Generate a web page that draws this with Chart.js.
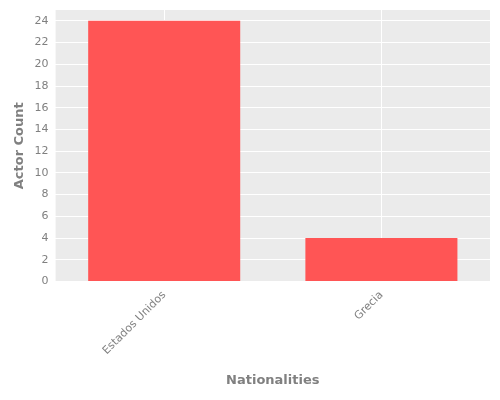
<!DOCTYPE html>
<html>
<head>
<script src="https://cdn.jsdelivr.net/npm/chart.js@4"></script>
<style>body{margin:0;background:#fff}#wrap{width:500px;height:400px}</style>
</head>
<body>
<div id="wrap"><canvas id="chart"></canvas></div>
<script>
const nationalities = ['Estados Unidos', 'Grecia'];
const actorCounts = [24, 4];
const yTicks = [0, 2, 4, 6, 8, 10, 12, 14, 16, 18, 20, 22, 24];

// gray panel behind the plot, ggplot style
const panelBg = {
    id: 'panelBg',
    beforeDraw(chart) {
        const { ctx, chartArea: a } = chart;
        ctx.save();
        ctx.fillStyle = '#ebebeb';
        ctx.fillRect(a.left, a.top, a.right - a.left, a.bottom - a.top);
        ctx.restore();
    }
};

new Chart(document.getElementById('chart'), {
    type: 'bar',
    data: {
        labels: nationalities,
        datasets: [{
            data: actorCounts,
            backgroundColor: '#ff5555',
            categoryPercentage: 1,
            barPercentage: 0.7
        }]
    },
    options: {
        responsive: true,
        maintainAspectRatio: false,
        animation: false,
        layout: { padding: { top: 10, right: 10, left: 8, bottom: 8 } },
        plugins: { legend: { display: false }, tooltip: { enabled: false } },
        scales: {
            x: {
                grid: { color: '#ffffff', lineWidth: 1, tickLength: 4, offset: false },
                border: { display: false },
                ticks: { color: '#808080', font: { family: 'DejaVu Sans', size: 11 }, maxRotation: 45, minRotation: 45 },
                title: { display: true, text: 'Nationalities', color: '#808080', padding: { top: 12 },
                    font: { family: 'DejaVu Sans', size: 13, weight: 'bold' } }
            },
            y: {
                min: 0, max: 25,
                afterBuildTicks: axis => { axis.ticks = yTicks.map(v => ({ value: v })); },
                grid: { color: '#ffffff', lineWidth: 1, tickLength: 4 },
                border: { display: false },
                ticks: { color: '#808080', font: { family: 'DejaVu Sans', size: 11 } },
                title: { display: true, text: 'Actor Count', color: '#808080',
                    font: { family: 'DejaVu Sans', size: 13, weight: 'bold' } }
            }
        }
    },
    plugins: [panelBg]
});
</script>
</body>
</html>
